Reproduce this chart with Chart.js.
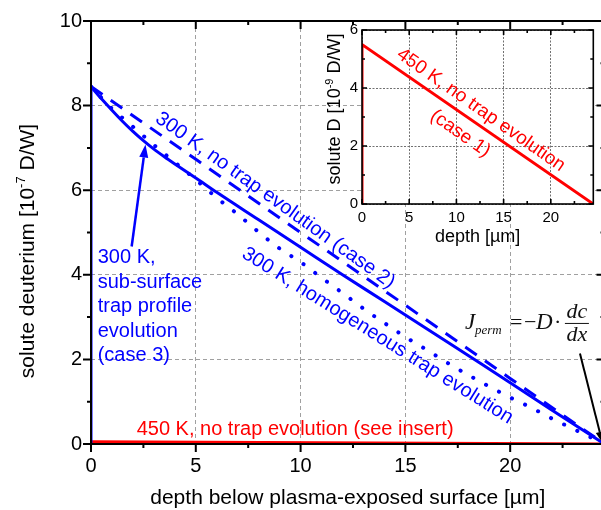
<!DOCTYPE html>
<html>
<head>
<meta charset="utf-8">
<script src="https://cdn.jsdelivr.net/npm/chart.js@4.4.1/dist/chart.umd.min.js"></script>
<style>
  html, body { margin: 0; padding: 0; background: #fff; overflow: hidden; }
  #wrap { position: relative; width: 601px; height: 510px; overflow: hidden; }
  #main { position: absolute; left: 0; top: 0; }
  #inset { position: absolute; left: 300px; top: 0; }
</style>
</head>
<body>
<div id="wrap">
  <canvas id="main" width="610" height="510"></canvas>
  <canvas id="inset" width="301" height="260"></canvas>
</div>
<script>
// depth below surface [µm] and solute D [1e-7 D/W] for the 300 K runs
const trapProfileDepth = [0, 0.5, 1, 1.5, 2, 2.5, 3, 3.5, 4, 5, 6, 8, 10, 12, 14, 16, 18, 20, 22, 24.5];
const trapProfileConc  = [8.45, 8.16, 7.89, 7.63, 7.39, 7.17, 6.97, 6.79, 6.62, 6.29, 5.95, 5.3, 4.65, 4.0, 3.37, 2.73, 2.09, 1.45, 0.8, 0];

const noTrapDepth = [0, 5, 10, 15, 20, 24.5];
const noTrapConc  = [8.45, 6.73, 5.0, 3.28, 1.55, 0];

const homogDepth = [0, 1, 2, 3, 4, 5, 6, 7, 8, 9, 10, 11, 12, 13, 14, 15, 16, 17, 18, 19, 20, 21, 22, 23, 24.5];
const homogConc  = [8.45, 7.93, 7.5, 7.07, 6.66, 6.25, 5.82, 5.43, 5.01, 4.62, 4.3, 3.93, 3.57, 3.2, 2.86, 2.53, 2.23, 1.92, 1.63, 1.36, 1.1, 0.86, 0.6, 0.36, 0];

// 450 K run, solute D in 1e-9 D/W
const hotDepth = [0, 0, 24.5];
const hotConc  = [0, 5.5, 0];

// axis ticks
const xTicks = [0, 5, 10, 15, 20];
const xMinor = [2.5, 7.5, 12.5, 17.5, 22.5];
const yTicks = [0, 2, 4, 6, 8, 10];
const yMinor = [1, 3, 5, 7, 9];
const insetYTicks = [0, 2, 4, 6];
const insetYMinor = [1, 3, 5];

const SANS = '"Liberation Sans", Arial, sans-serif';
const SERIF = '"Liberation Serif", "Times New Roman", serif';
const BLUE = '#0000ff';
const RED = '#ff0000';

const pts = (xs, ys) => xs.map((x, i) => ({ x, y: ys[i] }));

// text with a raised exponent part, centred on (cx, cy)
function drawRich(ctx, parts, cx, cy, angle, size) {
  ctx.save();
  ctx.translate(cx, cy);
  ctx.rotate(angle);
  ctx.fillStyle = '#000';
  ctx.textAlign = 'left';
  ctx.textBaseline = 'alphabetic';
  const supSize = Math.round(size * 0.62);
  let total = 0;
  parts.forEach(p => {
    ctx.font = `${p.sup ? supSize : size}px ${SANS}`;
    p.w = ctx.measureText(p.t).width;
    total += p.w;
  });
  let x = -total / 2;
  const base = size * 0.3;
  parts.forEach(p => {
    ctx.font = `${p.sup ? supSize : size}px ${SANS}`;
    ctx.fillText(p.t, x, p.sup ? base - size * 0.42 : base);
    x += p.w;
  });
  ctx.restore();
}

function arrow(ctx, x1, y1, x2, y2, color, lw, head, half) {
  const a = Math.atan2(y2 - y1, x2 - x1);
  ctx.save();
  ctx.strokeStyle = color;
  ctx.fillStyle = color;
  ctx.lineWidth = lw;
  ctx.beginPath();
  ctx.moveTo(x1, y1);
  ctx.lineTo(x2 - head * Math.cos(a), y2 - head * Math.sin(a));
  ctx.stroke();
  ctx.translate(x2, y2);
  ctx.rotate(a);
  ctx.beginPath();
  ctx.moveTo(0, 0);
  ctx.lineTo(-head, -half);
  ctx.lineTo(-head, half);
  ctx.closePath();
  ctx.fill();
  ctx.restore();
}

function rotatedLabel(ctx, text, cx, cy, deg, size, color) {
  ctx.save();
  ctx.translate(cx, cy);
  ctx.rotate(deg * Math.PI / 180);
  ctx.font = `${size}px ${SANS}`;
  ctx.fillStyle = color;
  ctx.textAlign = 'center';
  ctx.textBaseline = 'middle';
  ctx.fillText(text, 0, 0);
  ctx.restore();
}

// box frame with major/minor tick marks on all four sides
const frameTicks = {
  id: 'frameTicks',
  afterDatasetsDraw(chart, args, o) {
    const { ctx, chartArea: a, scales: { x, y } } = chart;
    ctx.save();
    ctx.strokeStyle = '#000';
    ctx.lineWidth = o.width;
    ctx.strokeRect(a.left, a.top, a.right - a.left, a.bottom - a.top);
    const mark = (vals, len) => {
      vals.forEach(v => {
        const px = x.getPixelForValue(v);
        const b = o.out.bottom ? 1 : -1, t = o.out.top ? -1 : 1;
        ctx.beginPath();
        ctx.moveTo(px, a.bottom); ctx.lineTo(px, a.bottom + b * len);
        ctx.moveTo(px, a.top); ctx.lineTo(px, a.top + t * len);
        ctx.stroke();
      });
    };
    const markY = (vals, len) => {
      vals.forEach(v => {
        const py = y.getPixelForValue(v);
        const l = o.out.left ? -1 : 1, r = o.out.right ? 1 : -1;
        ctx.beginPath();
        ctx.moveTo(a.left, py); ctx.lineTo(a.left + l * len, py);
        ctx.moveTo(a.right, py); ctx.lineTo(a.right + r * len, py);
        ctx.stroke();
      });
    };
    mark(o.xMajor, o.major); mark(o.xMinor, o.minor);
    markY(o.yMajor, o.major); markY(o.yMinor, o.minor);
    ctx.restore();
  }
};

const mainNotes = {
  id: 'mainNotes',
  afterDraw(chart) {
    const { ctx, chartArea: a, scales: { x, y } } = chart;
    const X = v => x.getPixelForValue(v), Y = v => y.getPixelForValue(v);

    drawRich(ctx, [{ t: 'depth below plasma-exposed surface [\u00b5m]' }], (a.left + a.right) / 2, a.bottom + 54, 0, 21);
    drawRich(ctx, [{ t: 'solute deuterium [10' }, { t: '-7', sup: true }, { t: ' D/W]' }], a.left - 63, a.top + 230, -Math.PI / 2, 21);

    rotatedLabel(ctx, '300 K, no trap evolution (case 2)', X(8.79), Y(5.76), 35.5, 20, BLUE);
    rotatedLabel(ctx, '300 K, homogeneous trap evolution', X(13.67), Y(2.56), 32, 20, BLUE);

    ctx.save();
    ctx.font = `20px ${SANS}`;
    ctx.fillStyle = BLUE;
    ctx.textAlign = 'left';
    ctx.textBaseline = 'middle';
    ['300 K,', 'sub-surface', 'trap profile', 'evolution', '(case 3)'].forEach((line, i) => {
      ctx.fillText(line, X(0.32), Y(4.4) + i * 24.5);
    });
    ctx.fillStyle = RED;
    ctx.textBaseline = 'alphabetic';
    ctx.fillText('450 K, no trap evolution (see insert)', X(2.18), Y(0.21));
    ctx.restore();

    arrow(ctx, X(1.94), Y(4.67), X(2.6), Y(7.08), BLUE, 2.5, 13, 4.5);

    // permeation flux formula
    const fx = X(17.84), fy = Y(2.72);
    ctx.save();
    ctx.fillStyle = '#111';
    ctx.strokeStyle = '#111';
    ctx.textAlign = 'left';
    ctx.textBaseline = 'alphabetic';
    ctx.font = `italic 23px ${SERIF}`;
    ctx.fillText('J', fx, fy);
    ctx.font = `italic 13px ${SERIF}`;
    ctx.fillText('perm', fx + 10, fy + 5);
    ctx.font = `22px ${SERIF}`;
    ctx.fillText('=', fx + 45, fy);
    ctx.fillText('\u2212', fx + 59, fy);
    ctx.font = `italic 23px ${SERIF}`;
    ctx.fillText('D', fx + 71, fy);
    ctx.font = `22px ${SERIF}`;
    ctx.fillText('\u00b7', fx + 89, fy);
    ctx.font = `italic 22px ${SERIF}`;
    ctx.textAlign = 'center';
    ctx.fillText('dc', fx + 112, fy - 11);
    ctx.fillText('dx', fx + 112, fy + 12);
    ctx.lineWidth = 1;
    ctx.beginPath();
    ctx.moveTo(fx + 100, fy - 5.5);
    ctx.lineTo(fx + 124, fy - 5.5);
    ctx.stroke();
    ctx.restore();

    arrow(ctx, X(23.33), Y(2.14), X(24.4), Y(0.03), '#000', 2, 11, 4);
  }
};

const insetNotes = {
  id: 'insetNotes',
  beforeDraw(chart) {
    const { ctx, chartArea: a } = chart;
    ctx.save();
    ctx.fillStyle = '#fff';
    ctx.fillRect(a.left, a.top, a.right - a.left, a.bottom - a.top);
    ctx.restore();
  },
  afterDraw(chart) {
    const { ctx, chartArea: a, scales: { x, y } } = chart;
    const X = v => x.getPixelForValue(v), Y = v => y.getPixelForValue(v);
    drawRich(ctx, [{ t: 'depth [\u00b5m]' }], (a.left + a.right) / 2, a.bottom + 33, 0, 18);
    drawRich(ctx, [{ t: 'solute D [10' }, { t: '-9', sup: true }, { t: ' D/W]' }], a.left - 27, a.top + 79, -Math.PI / 2, 18);
    rotatedLabel(ctx, '450 K, no trap evolution', X(12.59), Y(3.24), 35, 19, RED);
    rotatedLabel(ctx, '(case 1)', X(10.41), Y(2.43), 35, 19, RED);
  }
};

const baseLine = { pointRadius: 0, fill: false, borderWidth: 3 };

new Chart(document.getElementById('main'), {
  type: 'line',
  data: {
    datasets: [
      { ...baseLine, data: pts(trapProfileDepth, trapProfileConc), borderColor: BLUE, cubicInterpolationMode: 'monotone' },
      { ...baseLine, data: pts(noTrapDepth, noTrapConc), borderColor: BLUE, borderDash: [14, 10] },
      { ...baseLine, data: pts(homogDepth, homogConc), borderColor: BLUE, borderWidth: 4,
        borderDash: [0.1, 14.5], borderCapStyle: 'round', cubicInterpolationMode: 'monotone' },
      { ...baseLine, data: pts([0, 0], [0, trapProfileConc[0]]), borderColor: BLUE },
      { ...baseLine, data: pts(hotDepth, hotConc.map(v => v / 100)), borderColor: RED },
    ]
  },
  options: {
    responsive: false,
    animation: false,
    events: [],
    layout: { padding: { left: 0, top: 14, right: 5.5, bottom: 0 } },
    scales: {
      x: {
        type: 'linear', min: 0, max: 24.5,
        afterBuildTicks: s => { s.ticks = xTicks.map(value => ({ value })); },
        afterFit: s => { s.height = 66; },
        grid: { color: '#a0a0a0', lineWidth: 1, drawTicks: false },
        border: { display: false, dash: [4, 3] },
        ticks: { padding: 10, maxRotation: 0, color: '#000', font: { family: SANS, size: 20 } }
      },
      y: {
        type: 'linear', min: 0, max: 10,
        afterBuildTicks: s => { s.ticks = yTicks.map(value => ({ value })); },
        afterFit: s => { s.width = 91; },
        grid: { color: '#a0a0a0', lineWidth: 1, drawTicks: false },
        border: { display: false, dash: [4, 3] },
        ticks: { padding: 9, color: '#000', font: { family: SANS, size: 20 } }
      }
    },
    plugins: {
      legend: { display: false },
      tooltip: { enabled: false },
      frameTicks: {
        width: 2, major: 8, minor: 4,
        out: { left: true, bottom: true, top: false, right: false },
        xMajor: xTicks, xMinor, yMajor: yTicks, yMinor
      }
    }
  },
  plugins: [frameTicks, mainNotes]
});

new Chart(document.getElementById('inset'), {
  type: 'line',
  data: {
    datasets: [
      { ...baseLine, data: pts(hotDepth, hotConc), borderColor: RED }
    ]
  },
  options: {
    responsive: false,
    animation: false,
    events: [],
    layout: { padding: { left: 0, top: 30, right: 7.7, bottom: 0 } },
    scales: {
      x: {
        type: 'linear', min: 0, max: 24.5,
        afterBuildTicks: s => { s.ticks = xTicks.map(value => ({ value })); },
        afterFit: s => { s.height = 56; },
        grid: { color: '#707070', lineWidth: 1, drawTicks: false },
        border: { display: false, dash: [2, 1.5] },
        ticks: { padding: 5, maxRotation: 0, color: '#000', font: { family: SANS, size: 15 } }
      },
      y: {
        type: 'linear', min: 0, max: 6,
        afterBuildTicks: s => { s.ticks = insetYTicks.map(value => ({ value })); },
        afterFit: s => { s.width = 62; },
        grid: { color: '#707070', lineWidth: 1, drawTicks: false },
        border: { display: false, dash: [2, 1.5] },
        ticks: { padding: 4, color: '#000', font: { family: SANS, size: 15 } }
      }
    },
    plugins: {
      legend: { display: false },
      tooltip: { enabled: false },
      frameTicks: {
        width: 1.6, major: 5, minor: 3,
        out: { left: false, bottom: false, top: false, right: false },
        xMajor: xTicks, xMinor, yMajor: insetYTicks, yMinor: insetYMinor
      }
    }
  },
  plugins: [insetNotes, frameTicks]
});
</script>
</body>
</html>
